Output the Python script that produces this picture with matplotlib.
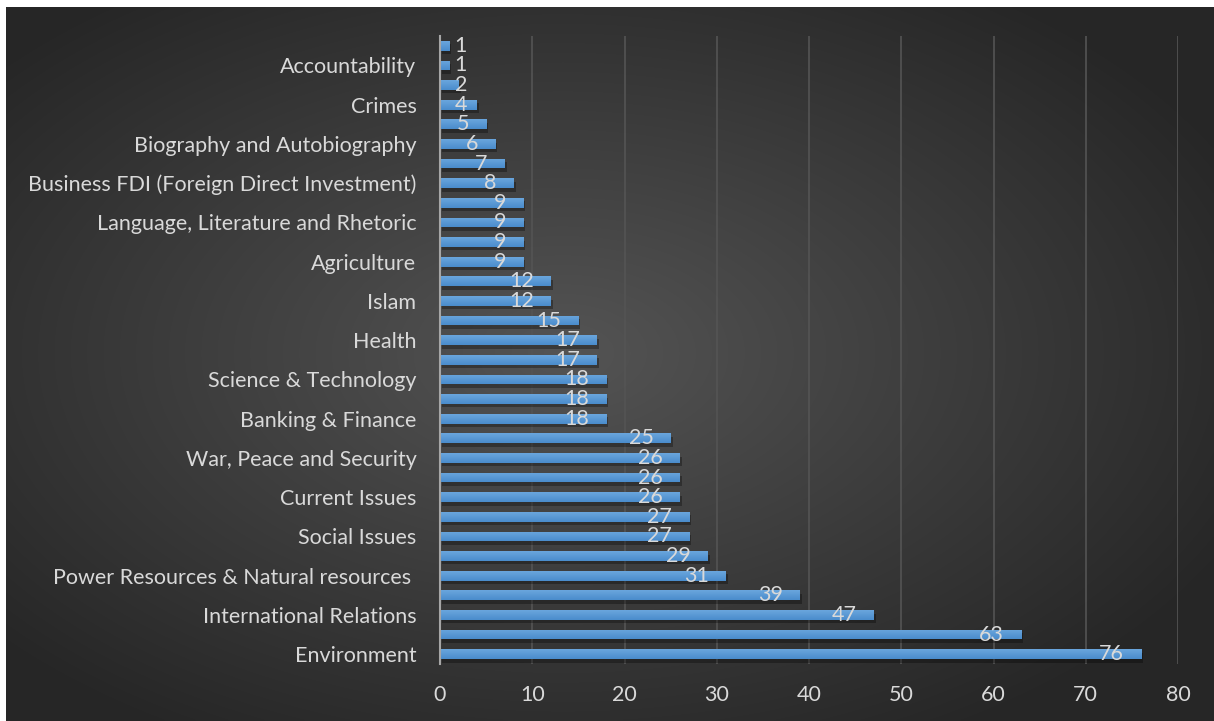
import numpy as np
import matplotlib
matplotlib.use("Agg")
from matplotlib import pyplot as plt
from matplotlib import patheffects as pe

# categories from bottom to top (Excel skips every other label)
categories = ["Environment", "", "International Relations", "",
              "Power Resources & Natural resources ", "", "Social Issues", "",
              "Current Issues", "", "War, Peace and Security", "",
              "Banking & Finance", "", "Science & Technology", "",
              "Health", "", "Islam", "", "Agriculture", "",
              "Language, Literature and Rhetoric", "",
              "Business FDI (Foreign Direct Investment)", "",
              "Biography and Autobiography", "", "Crimes", "",
              "Accountability", ""]
values = [76, 63, 47, 39, 31, 29, 27, 27, 26, 26, 26, 25, 18, 18, 18, 17,
          17, 15, 12, 12, 9, 9, 9, 9, 8, 7, 6, 5, 4, 2, 1, 1]
x_ticks = [0, 10, 20, 30, 40, 50, 60, 70, 80]

plt.rcParams['font.family'] = ['Lato', 'DejaVu Sans']
txt_color = '#d9d9d9'
bar_color = '#5b9bd5'
fs = 15.5

W, H = 1214, 721
fig = plt.figure(figsize=(W / 100, H / 100), dpi=100)
fig.patch.set_facecolor('white')

# dark radial background of the chart area
bg = fig.add_axes([6 / W, 0, 1 - 6 / W, 1 - 7 / H])
bg.set_axis_off()
yy, xx = np.mgrid[0:300, 0:500]
r = np.sqrt(((xx - 230) / 500) ** 2 + ((yy - 145) / 300) ** 2)
r = np.clip(r / 0.62, 0, 1)
shade = 0.33 - 0.18 * r
bg.imshow(np.dstack([shade] * 3), aspect='auto', extent=[0, 1, 0, 1],
          interpolation='bilinear')
bg.set_xlim(0, 1)
bg.set_ylim(0, 1)

ax = fig.add_axes([440 / W, 1 - 664 / H, (1178 - 440) / W, (664 - 36) / H])
ax.patch.set_alpha(0)

y = np.arange(len(values))
bars = ax.barh(y, values, height=0.5, color=bar_color, zorder=3,
               path_effects=[pe.SimplePatchShadow(offset=(1.5, -2.5), alpha=0.3, shadow_rgbFace='black'),
                             pe.Normal()])

# light-to-dark vertical gradient on each bar
grad = np.linspace(0, 1, 32).reshape(-1, 1)
cmap = matplotlib.colors.LinearSegmentedColormap.from_list('bar', ['#4a8ccc', '#6aa6dd'])
for b in bars:
    x0, y0 = b.get_x(), b.get_y()
    w, h = b.get_width(), b.get_height()
    im = ax.imshow(grad, cmap=cmap, aspect='auto', origin='lower',
                   extent=[x0, x0 + w, y0, y0 + h], zorder=4, interpolation='bilinear')
    im.set_clip_path(b)

# data labels, inside end
for i, v in enumerate(values):
    ax.text(max(v - 1.84, 2.93), i, str(v), ha='right', va='center',
            color=txt_color, fontsize=fs, zorder=6)

ax.set_xlim(0, 80)
ax.set_ylim(-0.5, len(values) - 0.5)
ax.set_xticks(x_ticks)
ax.set_xticklabels([str(t) for t in x_ticks])
ax.set_yticks(y)
ax.set_yticklabels(categories)
ax.tick_params(axis='both', length=0, colors=txt_color, labelsize=fs)
ax.tick_params(axis='y', pad=17)
ax.tick_params(axis='x', pad=15)
ax.grid(axis='x', color='#545454', linewidth=1.2, zorder=1)
ax.set_axisbelow(True)
for s in ['top', 'right', 'bottom']:
    ax.spines[s].set_visible(False)
ax.spines['left'].set_color('#a6a6a6')
ax.spines['left'].set_linewidth(1.5)
ax.spines['left'].set_zorder(5)

fig.savefig('out.png', dpi=100, facecolor=fig.get_facecolor())
